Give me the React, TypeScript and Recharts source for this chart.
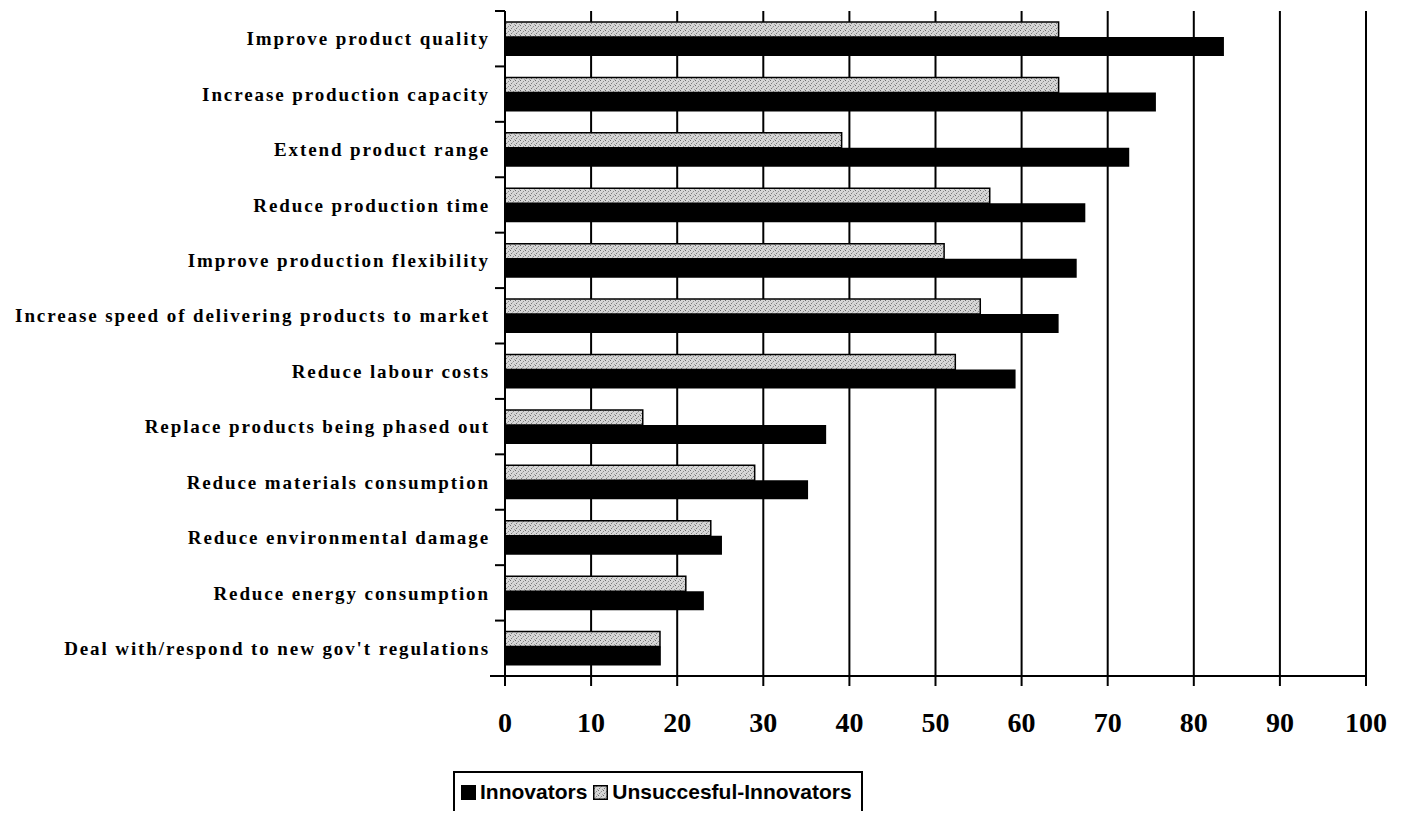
import { BarChart, Bar, XAxis, YAxis, CartesianGrid, Legend } from "recharts";

const categories = [
  "Improve product quality",
  "Increase production capacity",
  "Extend product range",
  "Reduce production time",
  "Improve production flexibility",
  "Increase speed of delivering products to market",
  "Reduce labour costs",
  "Replace products being phased out",
  "Reduce materials consumption",
  "Reduce environmental damage",
  "Reduce energy consumption",
  "Deal with/respond to new gov't regulations",
];

const innovators = [83.5, 75.6, 72.5, 67.4, 66.4, 64.3, 59.3, 37.3, 35.2, 25.2, 23.1, 18.1];
const unsuccessful = [64.3, 64.3, 39.1, 56.3, 51.0, 55.2, 52.3, 16.0, 29.0, 23.9, 21.0, 18.0];

const xTicks = [0, 10, 20, 30, 40, 50, 60, 70, 80, 90, 100];

const data = categories.map((name, i) => ({
  name,
  innovators: innovators[i],
  unsuccessful: unsuccessful[i],
}));

const W = 1406;
const H = 813;
const MARGIN = { top: 11, right: 40, bottom: 77, left: 0 };
const X_AXIS_H = 60;
const Y_AXIS_W = 505;
const PLOT_H = H - MARGIN.top - MARGIN.bottom - X_AXIS_H;
const BAND = PLOT_H / categories.length;

const SERIF = "'Liberation Serif', 'Times New Roman', serif";
const SANS = "'Liberation Sans', Arial, sans-serif";

// category label plus a small tick at the top edge of its band
function CategoryTick(props: any) {
  const { x, y, payload, index } = props;
  const last = index === categories.length - 1;
  return (
    <g>
      <line x1={x - 10} x2={x} y1={y - BAND / 2} y2={y - BAND / 2} stroke="#000" strokeWidth={2} />
      {last && (
        <line x1={x - 15} x2={x} y1={y + BAND / 2} y2={y + BAND / 2} stroke="#000" strokeWidth={2} />
      )}
      <text
        x={x - 15}
        y={y}
        dy="0.35em"
        textAnchor="end"
        fontFamily={SERIF}
        fontWeight={700}
        fontSize={19}
        letterSpacing={1.9}
        fill="#000"
      >
        {payload.value}
      </text>
    </g>
  );
}

function LegendBox() {
  const item = (swatch: React.ReactNode, label: string) => (
    <span style={{ display: "inline-flex", alignItems: "center", marginRight: 6 }}>
      {swatch}
      <span style={{ marginLeft: 4 }}>{label}</span>
    </span>
  );
  return (
    <div
      style={{
        border: "2px solid #000",
        borderBottom: "none",
        height: 40,
        boxSizing: "border-box",
        padding: "7px 0 0 6px",
        fontFamily: SANS,
        fontWeight: 700,
        fontSize: 21,
        color: "#000",
        whiteSpace: "nowrap",
      }}
    >
      {item(<span style={{ width: 15, height: 15, background: "#000", display: "inline-block" }} />, "Innovators")}
      {item(
        <svg width={15} height={15}>
          <rect x={0.75} y={0.75} width={13.5} height={13.5} fill="url(#dots)" stroke="#000" strokeWidth={1.5} />
        </svg>,
        "Unsuccesful-Innovators"
      )}
    </div>
  );
}

export default function App() {
  return (
    <div style={{ position: "absolute", left: 0, top: 0, background: "#fff" }}>
      <BarChart
        width={W}
        height={H}
        data={data}
        layout="vertical"
        margin={MARGIN}
        barGap={0}
        barCategoryGap={0}
      >
        <defs>
          {/* stippled grey fill, scattered dots so it doesn't read as hatching */}
          <pattern id="dots" width={5} height={5} patternUnits="userSpaceOnUse">
            <rect width={5} height={5} fill="#d6d6d6" />
            <rect x={0} y={0} width={1} height={1} fill="#6a6a6a" />
            <rect x={3} y={1} width={1} height={1} fill="#8c8c8c" />
            <rect x={1} y={3} width={1} height={1} fill="#7a7a7a" />
            <rect x={4} y={4} width={1} height={1} fill="#a0a0a0" />
            <rect x={2} y={2} width={1} height={1} fill="#b0b0b0" />
          </pattern>
        </defs>
        <CartesianGrid horizontal={false} stroke="#000" strokeWidth={2} />
        <XAxis
          type="number"
          domain={[0, 100]}
          ticks={xTicks}
          height={X_AXIS_H}
          axisLine={{ stroke: "#000", strokeWidth: 2 }}
          tickLine={{ stroke: "#000", strokeWidth: 2 }}
          tickSize={10}
          tickMargin={26}
          tick={{ fill: "#000", fontFamily: SERIF, fontWeight: 700, fontSize: 28 }}
        />
        <YAxis
          type="category"
          dataKey="name"
          width={Y_AXIS_W}
          axisLine={{ stroke: "#000", strokeWidth: 2 }}
          tickLine={false}
          tickSize={0}
          tickMargin={0}
          interval={0}
          tick={<CategoryTick />}
        />
        <Legend
          layout="horizontal"
          verticalAlign="middle"
          align="center"
          wrapperStyle={{ left: 453, top: 771, width: 410 }}
          content={() => <LegendBox />}
        />
        <Bar
          dataKey="unsuccessful"
          name="Unsuccesful-Innovators"
          fill="url(#dots)"
          stroke="#000"
          strokeWidth={1.5}
          barSize={15}
          isAnimationActive={false}
        />
        <Bar
          dataKey="innovators"
          name="Innovators"
          fill="#000"
          barSize={19}
          isAnimationActive={false}
        />
      </BarChart>
    </div>
  );
}
